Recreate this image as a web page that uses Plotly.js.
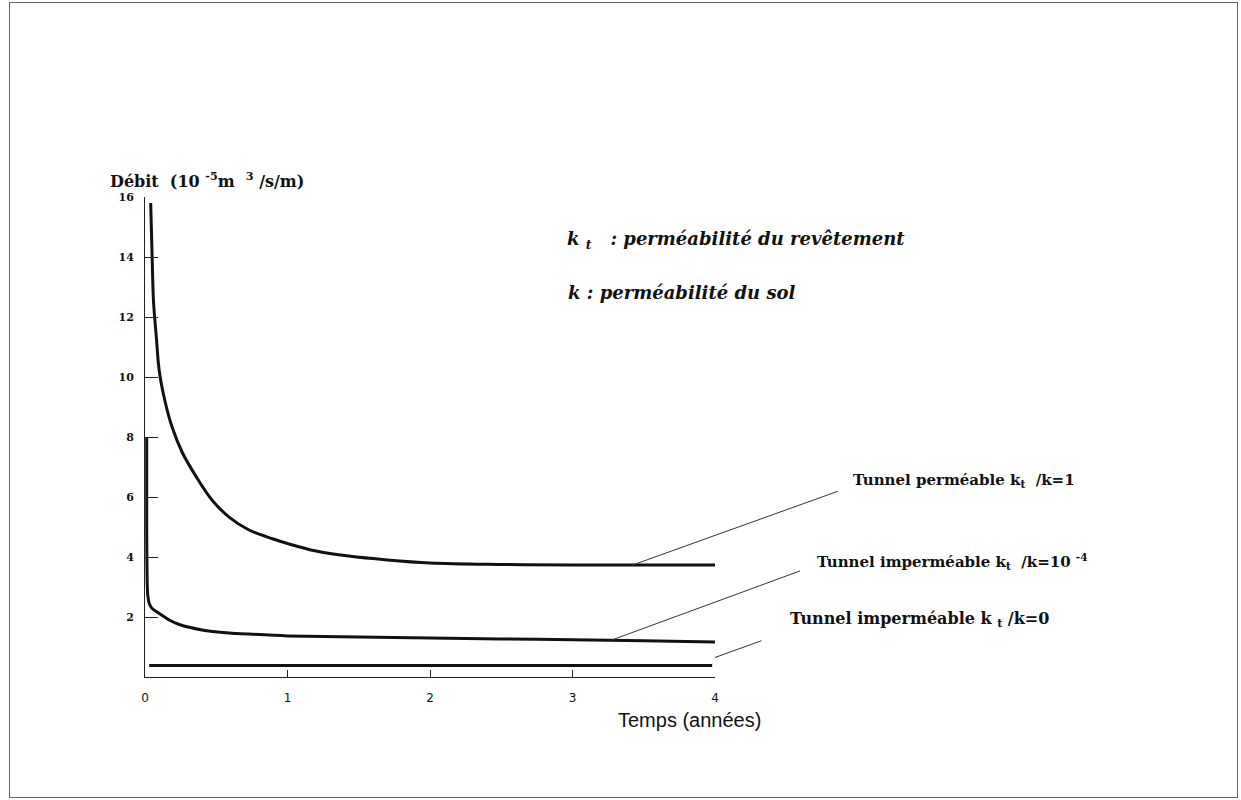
<!DOCTYPE html>
<html>
<head>
<meta charset="utf-8">
<script src="https://cdn.plot.ly/plotly-3.0.1.min.js"></script>
<style>
  html, body { margin: 0; padding: 0; background: #fff; }
  #wrap { position: relative; width: 1241px; height: 800px; }
  #chart { position: absolute; left: 0; top: 0; width: 1241px; height: 800px; }
  #frame { position: absolute; left: 9px; top: 2px; width: 1227px; height: 794px; border: 1px solid #666; pointer-events: none; }
</style>
</head>
<body>
<div id="wrap">
  <div id="chart"></div>
  <div id="frame"></div>
</div>
<script>
// Temps (années) and Débit values
var tPermeable = [0.04, 0.05, 0.06, 0.08, 0.10, 0.14, 0.19, 0.26, 0.36, 0.47, 0.59, 0.73, 0.90, 1.00, 1.20, 1.43, 1.70, 2.00, 2.50, 3.00, 4.00];
var qPermeable = [15.8, 14.0, 12.5, 11.3, 10.2, 9.2, 8.33, 7.5, 6.67, 5.9, 5.33, 4.9, 4.6, 4.45, 4.2, 4.03, 3.9, 3.8, 3.75, 3.73, 3.73];

var tImpermeable = [0.012, 0.012, 0.015, 0.02, 0.03, 0.05, 0.10, 0.17, 0.24, 0.40, 0.59, 0.73, 1.00, 1.50, 2.00, 2.50, 3.00, 3.50, 4.00];
var qImpermeable = [8.0, 5.0, 3.2, 2.7, 2.45, 2.28, 2.12, 1.9, 1.75, 1.57, 1.47, 1.43, 1.37, 1.33, 1.30, 1.27, 1.24, 1.21, 1.17];

var tZero = [0.03, 3.98];
var qZero = [0.38, 0.38];

var xTicks = [0, 1, 2, 3, 4];
var yTicks = [0, 2, 4, 6, 8, 10, 12, 14, 16];
var yTickLabels = ['', '2', '4', '6', '8', '10', '12', '14', '16'];

var seriesNames = [
  'Tunnel perméable k<sub>t</sub>  /k=1',
  'Tunnel imperméable k<sub>t</sub>  /k=10 <sup>-4</sup>',
  'Tunnel imperméable k <sub>t</sub> /k=0'
];
// leader-line anchor points on the curves
var leaderT = [3.42, 3.28, 4.0];
var leaderQ = [3.73, 1.24, 0.65];

var serif = 'DejaVu Serif, serif';

var traces = [
  {x: tPermeable, y: qPermeable, mode: 'lines', line: {color: '#111', width: 3, shape: 'spline', smoothing: 1.0}, name: seriesNames[0], showlegend: false, hoverinfo: 'skip'},
  {x: tImpermeable, y: qImpermeable, mode: 'lines', line: {color: '#111', width: 3, shape: 'spline', smoothing: 0.6}, name: seriesNames[1], showlegend: false, hoverinfo: 'skip'},
  {x: tZero, y: qZero, mode: 'lines', line: {color: '#111', width: 3}, name: seriesNames[2], showlegend: false, hoverinfo: 'skip'}
];

var labelPos = [
  {x: 1.2386, y: 0.4104},
  {x: 1.1754, y: 0.2396},
  {x: 1.128, y: 0.1188}
];
var leaderTail = [
  {ax: 206, ay: -74},
  {ax: 188, ay: -69},
  {ax: 47, ay: -17}
];

var annotations = [
  {xref: 'paper', yref: 'paper', x: -0.0649, y: 1.0354, xanchor: 'left', yanchor: 'middle', showarrow: false,
   text: '<b>Débit  (10 <sup>-5</sup>m  <sup>3</sup> /s/m)</b>', font: {family: serif, size: 16, color: '#111'}},
  {xref: 'paper', yref: 'paper', x: 0.956, y: -0.0896, xanchor: 'center', yanchor: 'middle', showarrow: false,
   text: 'Temps (années)', font: {family: 'Liberation Sans, Arial, sans-serif', size: 20, color: '#111'}},
  {xref: 'paper', yref: 'paper', x: 0.7368, y: 0.9104, xanchor: 'left', yanchor: 'middle', showarrow: false,
   text: '<b><i>k <sub>t</sub>   : perméabilité du revêtement</i></b>', font: {family: serif, size: 18, color: '#111'}},
  {xref: 'paper', yref: 'paper', x: 0.7386, y: 0.802, xanchor: 'left', yanchor: 'middle', showarrow: false,
   text: '<b><i>k : perméabilité du sol</i></b>', font: {family: serif, size: 18, color: '#111'}}
];
for (var i = 0; i < 3; i++) {
  annotations.push({xref: 'paper', yref: 'paper', x: labelPos[i].x, y: labelPos[i].y, xanchor: 'left', yanchor: 'middle',
    showarrow: false, text: '<b>' + seriesNames[i] + '</b>', font: {family: serif, size: i === 2 ? 16 : 15, color: '#111'}});
  annotations.push({xref: 'x', yref: 'y', x: leaderT[i], y: leaderQ[i], text: ' ', font: {size: 1},
    borderpad: 0, showarrow: true, arrowhead: 0, arrowwidth: 1, arrowcolor: '#333',
    axref: 'pixel', ayref: 'pixel', ax: leaderTail[i].ax, ay: leaderTail[i].ay, standoff: 0});
}

var layout = {
  width: 1241, height: 800,
  margin: {l: 145, r: 526, t: 197, b: 123},
  paper_bgcolor: '#fff', plot_bgcolor: '#fff',
  showlegend: false,
  xaxis: {
    range: [0, 4], tickvals: xTicks, ticktext: xTicks.map(String),
    showgrid: false, zeroline: false, showline: true, linecolor: '#222', linewidth: 1,
    ticks: 'inside', ticklen: 7, tickwidth: 1, tickcolor: '#222', ticklabelstandoff: 10,
    tickfont: {family: 'DejaVu Sans, sans-serif', size: 12, color: '#111'}
  },
  yaxis: {
    range: [0, 16], tickvals: yTicks, ticktext: yTickLabels,
    showgrid: false, zeroline: false, showline: true, linecolor: '#222', linewidth: 1,
    ticks: 'inside', ticklen: 13, tickwidth: 1, tickcolor: '#222', ticklabelstandoff: 8,
    tickfont: {family: serif, size: 11, color: '#111', weight: 'bold'}
  },
  annotations: annotations
};

Plotly.newPlot('chart', traces, layout, {staticPlot: true, displayModeBar: false});
</script>
</body>
</html>
